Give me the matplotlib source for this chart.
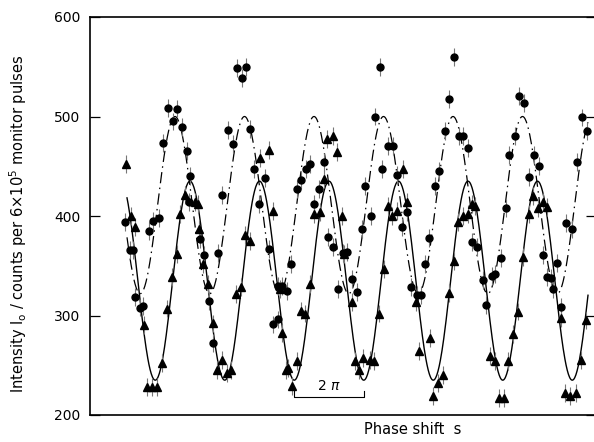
import numpy as np
import matplotlib
matplotlib.use("Agg")
import matplotlib.pyplot as plt

# phase shifter position (arbitrary units, one 2*pi period = PERIOD units)
circle_x = [35, 40, 43, 45, 50, 53, 59, 63, 69, 73, 78, 83, 87, 92, 97, 99, 100,
            110, 114, 119, 123, 128, 132, 138, 143, 147, 152, 156, 160,
            164, 169, 175, 179, 183, 188, 188, 192, 197, 201, 207, 211, 216, 220, 224, 229,
            234, 238, 243, 248, 253, 257, 262, 267, 272, 275, 281, 285, 290, 292, 298, 303,
            307, 312, 317, 321, 327, 331, 335, 339, 345, 349, 355, 359, 364, 369, 373, 378,
            382, 387, 393, 396, 402, 405, 411, 416, 419, 425, 429, 434, 439,
            444, 449, 453, 457, 461, 463, 467, 471, 476, 482, 487, 492, 497]
circle_y = [394, 366, 366, 319, 308, 310, 385, 395, 398, 473, 509, 495, 508, 489, 465, 414, 440,
            377, 361, 315, 272, 363, 421, 486, 472, 549, 539, 550, 487,
            447, 412, 438, 367, 291, 296, 330, 330, 325, 352, 427, 436, 447, 452, 412, 427,
            454, 379, 369, 327, 363, 364, 337, 324, 387, 430, 400, 500, 550, 447, 470, 470,
            441, 389, 404, 329, 321, 321, 352, 378, 430, 445, 485, 518, 560, 480, 480, 468,
            374, 369, 336, 311, 340, 342, 358, 408, 461, 480, 521, 514, 439,
            461, 450, 361, 339, 338, 327, 353, 309, 393, 387, 454, 499, 485]

tri_x = [36, 41, 45, 54, 57, 62, 67, 72, 77, 82, 87, 90, 95, 105, 108,
         109, 113, 118, 123, 127, 132, 137, 141, 146, 151, 155, 160,
         170, 179, 183, 190, 192, 196, 198, 202, 207, 211, 215, 220, 224, 230,
         234, 237, 243, 247, 252, 254, 262, 265, 269, 273, 280, 284, 289, 294, 298,
         302, 307, 313, 317, 326, 329, 340, 343, 348, 353, 359, 364, 368,
         373, 378, 382, 385, 400, 405, 409, 414, 418, 423, 428, 433, 439,
         443, 448, 453, 457, 471, 475, 480, 486, 491, 496]
tri_y = [452, 400, 389, 290, 228, 228, 228, 252, 307, 339, 362, 402, 421, 414, 412,
         387, 352, 332, 292, 245, 255, 242, 245, 322, 329, 381, 375,
         458, 466, 405, 327, 282, 245, 247, 229, 254, 305, 302, 332, 402, 404,
         437, 477, 480, 464, 400, 362, 314, 254, 245, 257, 255, 254, 302, 347, 410,
         400, 405, 447, 414, 314, 264, 277, 219, 232, 240, 323, 355, 394,
         400, 402, 412, 410, 259, 254, 217, 217, 254, 281, 304, 359, 402,
         420, 408, 414, 409, 297, 222, 219, 222, 255, 295]

err = 9

# cosine fits
PERIOD = 69.5
solid_mean, solid_amp, solid_peak = 335, 100, 100
dash_mean, dash_amp, dash_peak = 411, 89, 85

fig = plt.figure(figsize=(5.94, 4.42), dpi=100)
ax = fig.add_axes([90 / 594, 27 / 442, 506 / 594, 398 / 442])

s = np.linspace(37, 498, 800)
ax.plot(s, solid_mean + solid_amp * np.cos(2 * np.pi * (s - solid_peak) / PERIOD),
        color="black", lw=1.0, zorder=2)
ax.plot(s, dash_mean + dash_amp * np.cos(2 * np.pi * (s - dash_peak) / PERIOD),
        color="black", lw=0.9, linestyle=(0, (9, 3.5, 1.2, 3.5)), zorder=2)

ax.errorbar(circle_x, circle_y, yerr=err, fmt="o", color="black", ms=5,
            ecolor="#777777", elinewidth=0.8, capsize=0, zorder=3)
ax.errorbar(tri_x, tri_y, yerr=err, fmt="^", color="black", ms=5.5,
            ecolor="#777777", elinewidth=0.8, capsize=0, zorder=3)

# 2 pi scale bar between two minima of the solid fit
x0 = solid_peak + 1.5 * PERIOD
x1 = x0 + PERIOD
ax.plot([x0, x0, x1, x1], [224, 218, 218, 224], color="black", lw=0.8)
ax.text((x0 + x1) / 2, 222, r"2 $\pi$", ha="center", va="bottom", fontsize=10)

ax.set_xlim(0, 506)
ax.set_ylim(200, 600)
ax.set_yticks([200, 300, 400, 500, 600])
ax.set_xticks([])
ax.tick_params(axis="y", direction="in", length=7, width=0.9, labelsize=10, pad=7,
               right=True)
for side in ["left", "bottom", "top"]:
    ax.spines[side].set_linewidth(1.2)
ax.spines["right"].set_visible(False)

ax.set_ylabel(r"Intensity I$_\mathrm{o}$ / counts per 6$\times$10$^5$ monitor pulses",
              fontsize=10.5)
ax.yaxis.set_label_coords(-0.12, 0.48)
fig.text(413 / 594, 12 / 442, "Phase shift  s", ha="center", va="center", fontsize=10.5)

fig.savefig("out.png", dpi=100)
